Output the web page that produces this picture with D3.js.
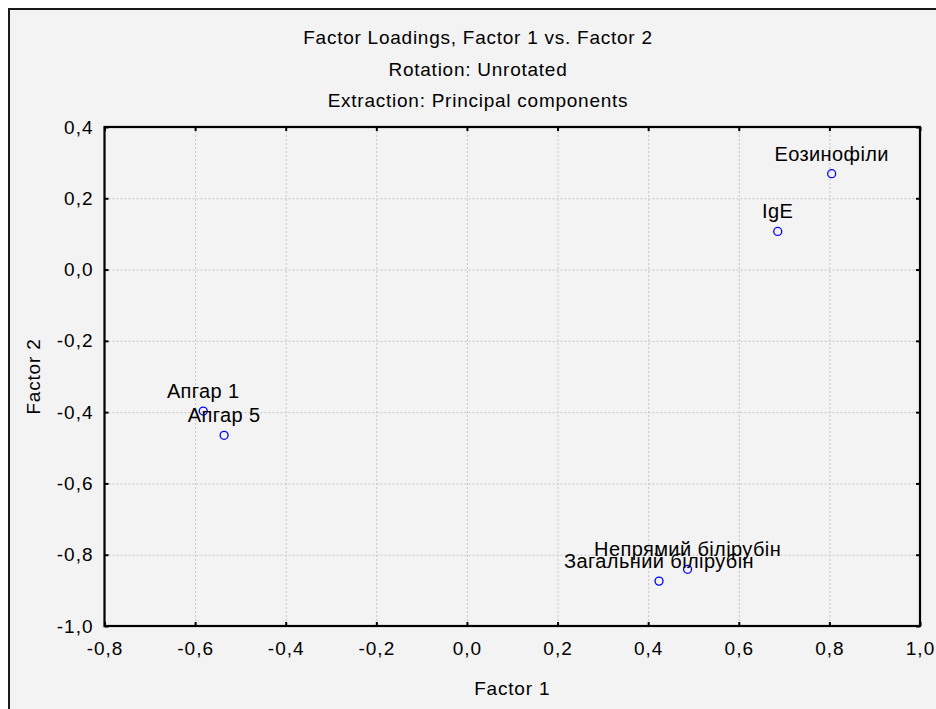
<!DOCTYPE html>
<html>
<head>
<meta charset="utf-8">
<script src="https://cdn.jsdelivr.net/npm/d3@7"></script>
<style>
  body { margin: 0; background: #fff; }
  text { font-family: "Liberation Sans", Arial, sans-serif; fill: #000; }
</style>
</head>
<body>
<div id="vis"></div>
<script>
// Chart data
const titleLines = ['Factor Loadings, Factor 1 vs. Factor 2', 'Rotation: Unrotated', 'Extraction: Principal components'];
const varNames = ['Еозинофіли', 'IgE', 'Апгар 1', 'Апгар 5', 'Загальний білірубін', 'Непрямий білірубін'];
const factor1 = [0.805, 0.686, -0.582, -0.536, 0.424, 0.487];
const factor2 = [0.269, 0.107, -0.397, -0.465, -0.874, -0.841];
const xTicks = [-0.8, -0.6, -0.4, -0.2, 0.0, 0.2, 0.4, 0.6, 0.8, 1.0];
const yTicks = [-1.0, -0.8, -0.6, -0.4, -0.2, 0.0, 0.2, 0.4];
const xLabel = 'Factor 1', yLabel = 'Factor 2';

const W = 936, H = 709;
const margin = { top: 127, right: 16, bottom: 83, left: 104.5 };
const width = W - margin.left - margin.right;
const height = H - margin.top - margin.bottom;

const fmt = v => d3.format('.1f')(v).replace('.', ',').replace('−', '-');

const root = d3.select('#vis').append('svg')
    .attr('width', W)
    .attr('height', H);

// outer frame (runs off the right/bottom edges)
root.append('rect')
    .attr('x', 9).attr('y', 9)
    .attr('width', W + 20).attr('height', H + 20)
    .attr('fill', '#f3f3f3')
    .attr('stroke', '#1a1a1a')
    .attr('stroke-width', 2);

// titles
root.selectAll('.title')
    .data(titleLines)
    .enter()
    .append('text')
    .attr('class', 'title')
    .attr('x', 478)
    .attr('y', (d, i) => 44 + i * 31.7)
    .attr('text-anchor', 'middle')
    .style('font-size', '19px')
    .style('letter-spacing', '0.75px')
    .text(d => d);

const svg = root.append('g')
    .attr('transform', `translate(${margin.left},${margin.top})`);

const xScale = d3.scaleLinear().domain([-0.8, 1.0]).range([0, width]);
const yScale = d3.scaleLinear().domain([-1.0, 0.4]).range([height, 0]);

// grid
svg.append('g')
    .call(d3.axisBottom(xScale).tickValues(xTicks).tickSize(height).tickFormat(''))
    .call(g => g.select('.domain').remove())
    .selectAll('line')
    .attr('stroke', '#c4c4c4')
    .attr('stroke-dasharray', '2,2');

svg.append('g')
    .call(d3.axisRight(yScale).tickValues(yTicks).tickSize(width).tickFormat(''))
    .call(g => g.select('.domain').remove())
    .selectAll('line')
    .attr('stroke', '#c4c4c4')
    .attr('stroke-dasharray', '2,2');

// axes with inward ticks
const xAxis = svg.append('g')
    .attr('class', 'axis')
    .attr('transform', `translate(0,${height})`)
    .call(d3.axisBottom(xScale).tickValues(xTicks).tickSizeInner(-4).tickSizeOuter(0).tickPadding(25).tickFormat(fmt));

const yAxis = svg.append('g')
    .attr('class', 'axis')
    .call(d3.axisLeft(yScale).tickValues(yTicks).tickSizeInner(-4).tickSizeOuter(0).tickPadding(11).tickFormat(fmt));

svg.append('g')
    .attr('class', 'axis')
    .call(d3.axisTop(xScale).tickValues(xTicks).tickSizeInner(-4).tickSizeOuter(0).tickFormat(''));

svg.append('g')
    .attr('class', 'axis')
    .attr('transform', `translate(${width},0)`)
    .call(d3.axisRight(yScale).tickValues(yTicks).tickSizeInner(-4).tickSizeOuter(0).tickFormat(''));

svg.selectAll('.axis .domain').remove();
svg.selectAll('.axis .tick line').attr('stroke', '#000').attr('stroke-width', 2);

xAxis.selectAll('text').style('font-size', '19px').style('letter-spacing', '1px').attr('dy', '0.2em');
yAxis.selectAll('text').style('font-size', '19px').style('letter-spacing', '1px');

// plot border
svg.append('rect')
    .attr('width', width).attr('height', height)
    .attr('fill', 'none')
    .attr('stroke', '#000')
    .attr('stroke-width', 2.2);

// axis titles
svg.append('text')
    .attr('x', width / 2)
    .attr('y', height + 69)
    .attr('text-anchor', 'middle')
    .style('font-size', '19px')
    .style('letter-spacing', '0.8px')
    .text(xLabel);

svg.append('text')
    .attr('transform', 'rotate(-90)')
    .attr('x', -height / 2)
    .attr('y', 40 - margin.left)
    .attr('text-anchor', 'middle')
    .style('font-size', '19px')
    .style('letter-spacing', '0.8px')
    .text(yLabel);

// points and labels
const points = varNames.map((name, i) => ({ name, x: factor1[i], y: factor2[i] }));

svg.selectAll('.pt')
    .data(points)
    .enter()
    .append('circle')
    .attr('class', 'pt')
    .attr('cx', d => xScale(d.x))
    .attr('cy', d => yScale(d.y))
    .attr('r', 4)
    .attr('fill', 'none')
    .attr('stroke', '#0000ff')
    .attr('stroke-width', 1.3);

svg.selectAll('.lbl')
    .data(points)
    .enter()
    .append('text')
    .attr('class', 'lbl')
    .attr('x', d => xScale(d.x))
    .attr('y', d => yScale(d.y) - 13)
    .attr('text-anchor', 'middle')
    .style('font-size', '20px')
    .style('letter-spacing', '0.4px')
    .text(d => d.name);
</script>
</body>
</html>
